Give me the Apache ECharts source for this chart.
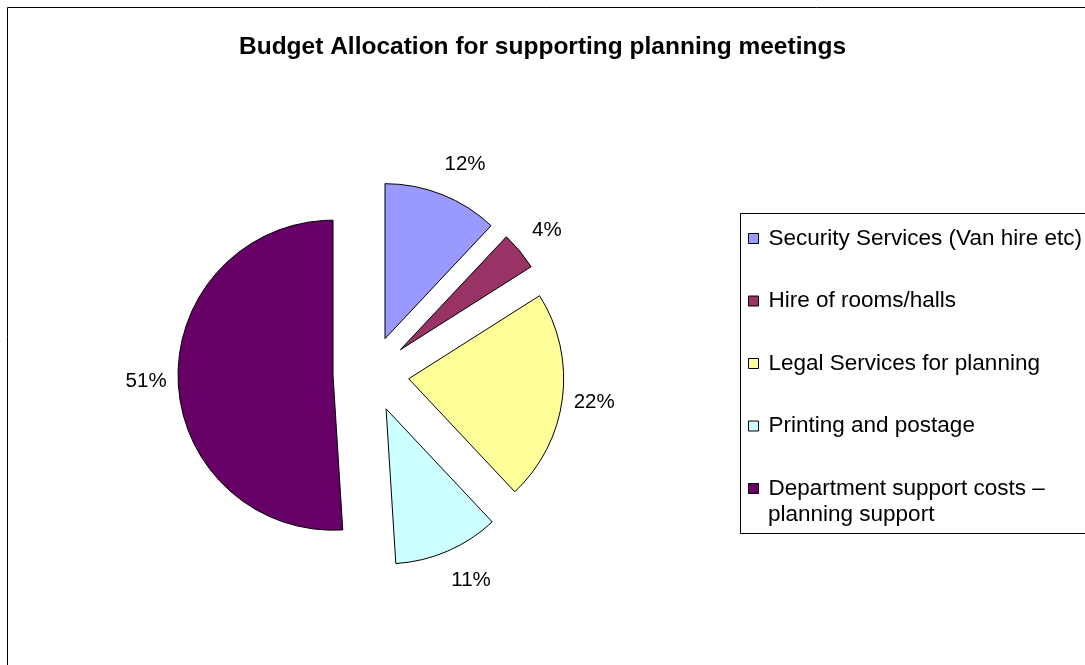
<!DOCTYPE html>
<html>
<head>
<meta charset="utf-8">
<script src="https://cdn.jsdelivr.net/npm/echarts@6/dist/echarts.min.js"></script>
<style>
html,body{margin:0;padding:0;background:#fff;}
#chart{width:1085px;height:665px;}
</style>
</head>
<body>
<div id="chart"></div>
<script>
// budget shares (percent)
const categories = [
    'Security Services (Van hire etc)',
    'Hire of rooms/halls',
    'Legal Services for planning',
    'Printing and postage',
    'Department support costs – planning support'
];
const shares = [12, 4, 22, 11, 51];
const colors = ['#9999ff', '#993366', '#ffff99', '#ccffff', '#660066'];

const font = "'Liberation Sans', Arial, sans-serif";
const pieRadius = 155;
const explode = 38;
const lineLen = 14;
const labelDist = 187; // label centre distance from the exploded slice centre

let pieData = [];
for (let i = 0; i < categories.length; i++) {
    pieData.push({
        name: categories[i],
        value: shares[i],
        selected: true,
        itemStyle: { color: colors[i] }
    });
}

// mid angle of every slice (clockwise from 12 o'clock), used to push labels out
let total = shares.reduce((a, b) => a + b, 0);
let midAngles = [];
let acc = 0;
for (let i = 0; i < shares.length; i++) {
    midAngles.push((acc + shares[i] / 2) / total * Math.PI * 2);
    acc += shares[i];
}

const chart = echarts.init(document.getElementById('chart'));
const option = {
    animation: false,
    backgroundColor: '#fff',
    title: {
        text: 'Budget Allocation for supporting planning meetings',
        left: 'center',
        top: 30,
        textStyle: { fontFamily: font, fontSize: 24.5, fontWeight: 'bold', color: '#000' }
    },
    graphic: [
        { type: 'rect', shape: { x: 7.5, y: 7.5, width: 1200, height: 800 }, style: { fill: 'none', stroke: '#000', lineWidth: 1 }, silent: true },
        { type: 'rect', shape: { x: 740.5, y: 213.5, width: 400, height: 320 }, style: { fill: 'none', stroke: '#000', lineWidth: 1 }, silent: true },
        // second line of the last legend entry
        { type: 'text', left: 768, top: 503, style: { text: 'planning support', font: '22.5px ' + font, fill: '#000' }, silent: true }
    ],
    legend: {
        orient: 'vertical',
        left: 743,
        top: 222,
        itemWidth: 10,
        itemHeight: 10,
        itemGap: 39.5,
        icon: 'rect',
        selectedMode: false,
        itemStyle: { borderColor: '#000', borderWidth: 1 },
        textStyle: { fontFamily: font, fontSize: 22.5, color: '#000', padding: [0, 0, 0, 5] },
        formatter: function (name) {
            return name.indexOf('Department') === 0 ? 'Department support costs –' : name;
        },
        data: categories
    },
    series: [{
        type: 'pie',
        center: [371, 374],
        radius: pieRadius,
        startAngle: 90,
        clockwise: true,
        selectedMode: 'multiple',
        selectedOffset: explode,
        silent: true,
        itemStyle: { borderColor: '#000', borderWidth: 1 },
        label: {
            show: true,
            position: 'outside',
            formatter: '{d}%',
            fontFamily: font,
            fontSize: 20.5,
            color: '#000'
        },
        labelLine: { show: false, length: lineLen, length2: 0 },
        labelLayout: function (params) {
            const a = midAngles[params.dataIndex];
            const vx = Math.sin(a), vy = -Math.cos(a);
            const w = params.labelRect.width;
            const extra = labelDist - pieRadius - lineLen;
            const side = vx < 0 ? -1 : 1;
            // centre the text on the ray instead of hanging it off one side
            return {
                dx: vx * extra - side * (5 + w / 2) + side * Math.pow(Math.abs(vy), 4) * 15,
                dy: vy * extra
            };
        },
        emphasis: { disabled: true },
        data: pieData
    }]
};
chart.setOption(option);
</script>
</body>
</html>
